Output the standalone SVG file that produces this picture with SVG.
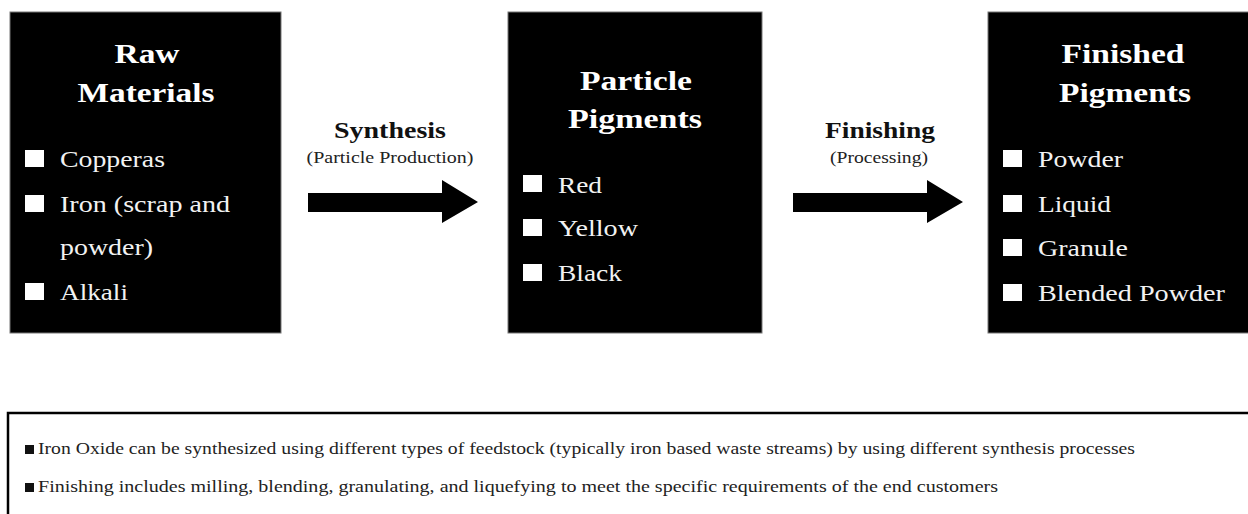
<svg xmlns="http://www.w3.org/2000/svg" width="1248" height="514" viewBox="0 0 1248 514">
<style>
.box{fill:#000;stroke:#777;stroke-width:1}
.title{font-family:"Liberation Serif",serif;font-weight:bold;font-size:27px;fill:#fff;text-anchor:middle}
.item{font-family:"Liberation Serif",serif;font-size:23px;fill:#f2f2f2}
.sq{fill:#fff}
.lbl{font-family:"Liberation Serif",serif;font-weight:bold;font-size:24px;fill:#111;text-anchor:middle}
.sub{font-family:"Liberation Serif",serif;font-size:17px;fill:#222;text-anchor:middle}
.note{font-family:"Liberation Serif",serif;font-size:16.5px;fill:#222}
</style>
<rect x="0" y="0" width="1248" height="514" fill="#fff"/>
<g id="raw-materials">
<rect class="box" x="10" y="12" width="271" height="321"/>
<text class="title" x="147" y="63" textLength="65" lengthAdjust="spacingAndGlyphs">Raw</text>
<text class="title" x="146" y="102" textLength="137" lengthAdjust="spacingAndGlyphs">Materials</text>
<rect class="sq" x="25" y="150" width="19" height="17"/>
<text class="item" x="60" y="167" textLength="105" lengthAdjust="spacingAndGlyphs">Copperas</text>
<rect class="sq" x="25" y="195" width="19" height="17"/>
<text class="item" x="60" y="212" textLength="170" lengthAdjust="spacingAndGlyphs">Iron (scrap and</text>
<text class="item" x="60" y="255" textLength="93" lengthAdjust="spacingAndGlyphs">powder)</text>
<rect class="sq" x="25" y="283" width="19" height="17"/>
<text class="item" x="60" y="300" textLength="68" lengthAdjust="spacingAndGlyphs">Alkali</text>
</g>
<g id="particle-pigments">
<rect class="box" x="508" y="12" width="254" height="321"/>
<text class="title" x="636" y="90" textLength="112" lengthAdjust="spacingAndGlyphs">Particle</text>
<text class="title" x="635" y="128" textLength="134" lengthAdjust="spacingAndGlyphs">Pigments</text>
<rect class="sq" x="523" y="175" width="19" height="17"/>
<text class="item" x="558" y="193" textLength="44" lengthAdjust="spacingAndGlyphs">Red</text>
<rect class="sq" x="523" y="219" width="19" height="17"/>
<text class="item" x="558" y="236" textLength="80" lengthAdjust="spacingAndGlyphs">Yellow</text>
<rect class="sq" x="523" y="264" width="19" height="17"/>
<text class="item" x="558" y="281" textLength="64" lengthAdjust="spacingAndGlyphs">Black</text>
</g>
<g id="finished-pigments">
<rect class="box" x="988" y="12" width="262" height="321"/>
<text class="title" x="1123" y="63" textLength="123" lengthAdjust="spacingAndGlyphs">Finished</text>
<text class="title" x="1125" y="102" textLength="132" lengthAdjust="spacingAndGlyphs">Pigments</text>
<rect class="sq" x="1003" y="150" width="19" height="17"/>
<text class="item" x="1038" y="167" textLength="85" lengthAdjust="spacingAndGlyphs">Powder</text>
<rect class="sq" x="1003" y="195" width="19" height="17"/>
<text class="item" x="1038" y="212" textLength="73" lengthAdjust="spacingAndGlyphs">Liquid</text>
<rect class="sq" x="1003" y="239" width="19" height="17"/>
<text class="item" x="1038" y="256" textLength="90" lengthAdjust="spacingAndGlyphs">Granule</text>
<rect class="sq" x="1003" y="284" width="19" height="17"/>
<text class="item" x="1038" y="301" textLength="187" lengthAdjust="spacingAndGlyphs">Blended Powder</text>
</g>
<g id="connectors">
<polygon fill="#000" points="308,193 442,193 442,180 478,202 442,223 442,212 308,212"/>
<text class="lbl" x="390" y="138" textLength="112" lengthAdjust="spacingAndGlyphs">Synthesis</text>
<text class="sub" x="390" y="163" textLength="167" lengthAdjust="spacingAndGlyphs">(Particle Production)</text>
<polygon fill="#000" points="793,193 927,193 927,180 963,202 927,223 927,212 793,212"/>
<text class="lbl" x="880" y="138" textLength="110" lengthAdjust="spacingAndGlyphs">Finishing</text>
<text class="sub" x="879" y="163" textLength="98" lengthAdjust="spacingAndGlyphs">(Processing)</text>
</g>
<g id="notes">
<rect x="8" y="413" width="1260" height="120" fill="none" stroke="#000" stroke-width="2.5"/>
<rect x="25" y="445" width="9" height="9" fill="#111"/>
<text class="note" x="38" y="454" textLength="1097" lengthAdjust="spacingAndGlyphs">Iron Oxide can be synthesized using different types of feedstock (typically iron based waste streams) by using different synthesis processes</text>
<rect x="25" y="483" width="9" height="9" fill="#111"/>
<text class="note" x="38" y="492" textLength="960" lengthAdjust="spacingAndGlyphs">Finishing includes milling, blending, granulating, and liquefying to meet the specific requirements of the end customers</text>
</g>
</svg>
